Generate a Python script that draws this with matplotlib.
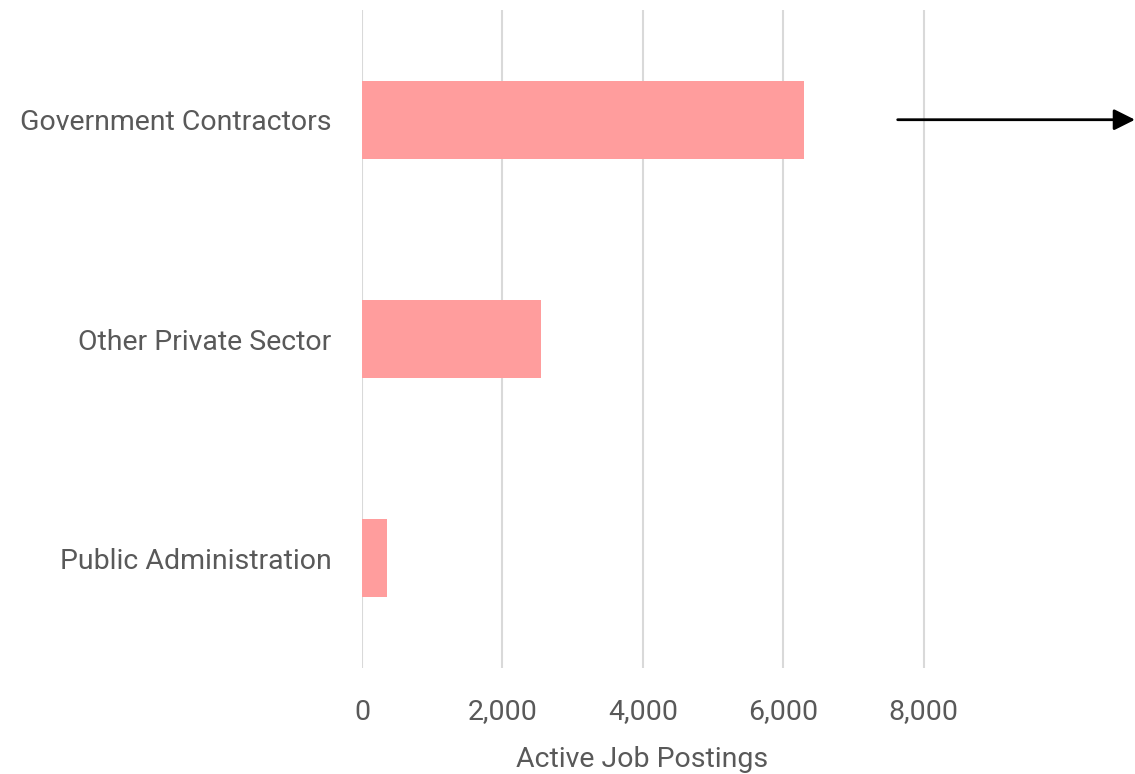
import matplotlib.pyplot as plt
from matplotlib.ticker import FuncFormatter

plt.rcParams['font.family'] = ['Roboto', 'DejaVu Sans']

# active postings by sector
sectors = ['Public Administration', 'Other Private Sector', 'Government Contractors']
postings = [350, 2550, 6300]
ticks = [0, 2000, 4000, 6000, 8000]

grey = '#595959'

fig = plt.figure(figsize=(11.35, 7.74), dpi=100)
ax = fig.add_axes([0.3189, 0.137, 0.6811, 0.850])

ax.barh(range(len(sectors)), postings, height=0.355, color='#FF9D9D', zorder=2)

ax.set_xlim(0, 11010)
ax.set_ylim(-0.5, 2.5)
ax.set_xticks(ticks)
ax.xaxis.set_major_formatter(FuncFormatter(lambda v, p: '{:,.0f}'.format(v)))
ax.set_yticks(range(len(sectors)))
ax.set_yticklabels(sectors)

ax.grid(axis='x', color='#D9D9D9', linewidth=1.5, zorder=0)
for s in ax.spines.values():
    s.set_visible(False)
ax.tick_params(length=0, labelsize=20.5, labelcolor=grey)
ax.tick_params(axis='x', pad=22)
ax.tick_params(axis='y', pad=22)
ax.set_xlabel('Active Job Postings', fontsize=20.5, color=grey)
ax.xaxis.set_label_coords(0.362, -0.118)

# arrow pointing off the right edge
ax.annotate('', xy=(11010, 2), xytext=(7630, 2),
            arrowprops=dict(arrowstyle='-|>', color='black', lw=2,
                            mutation_scale=32, shrinkA=0, shrinkB=0),
            annotation_clip=False, zorder=3)

fig.savefig('out.png', dpi=100)
